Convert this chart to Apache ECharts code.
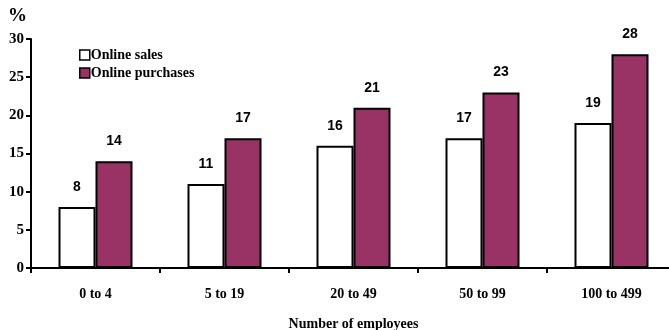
<!DOCTYPE html>
<html>
<head>
<meta charset="utf-8">
<script src="https://cdn.jsdelivr.net/npm/echarts@6/dist/echarts.min.js"></script>
<style>
  html, body { margin: 0; padding: 0; background: #fff; }
  #chart { width: 669px; height: 330px; }
</style>
</head>
<body>
<div id="chart"></div>
<script>
// Share of businesses selling / purchasing online, by firm size
const categories = ['0 to 4', '5 to 19', '20 to 49', '50 to 99', '100 to 499'];
const onlineSales = [8, 11, 16, 17, 19];
const onlinePurchases = [14, 17, 21, 23, 28];
const yTicks = [0, 5, 10, 15, 20, 25, 30];

const serif = '"Liberation Serif", "Times New Roman", serif';
const sans = '"Liberation Sans Narrow", "Liberation Sans", Arial, sans-serif';

const chart = echarts.init(document.getElementById('chart'), null, { renderer: 'canvas' });

const valueLabel = {
  show: true,
  position: 'top',
  distance: 13,
  color: '#000',
  fontFamily: sans,
  fontWeight: 'bold',
  fontSize: 14
};

chart.setOption({
  animation: false,
  backgroundColor: '#fff',
  grid: { left: 31, top: 39, width: 645, height: 229, containLabel: false, outerBoundsMode: 'none' },
  graphic: [{
    type: 'text',
    left: 8,
    top: 7,
    style: { text: '%', fontFamily: serif, fontWeight: 'bold', fontSize: 19, fill: '#000' }
  }],
  legend: {
    left: 79,
    top: 48,
    padding: 0,
    orient: 'vertical',
    icon: 'rect',
    itemWidth: 10,
    itemHeight: 10,
    itemGap: 4,
    itemStyle: { borderColor: '#000', borderWidth: 1.5 },
    textStyle: { fontFamily: serif, fontWeight: 'bold', fontSize: 14, color: '#000', padding: [0, 0, 0, -4] },
    data: ['Online sales', 'Online purchases']
  },
  xAxis: {
    type: 'category',
    data: categories,
    name: 'Number of employees',
    nameLocation: 'middle',
    nameGap: 49,
    nameTextStyle: { fontFamily: serif, fontWeight: 'bold', fontSize: 14, color: '#000' },
    axisLine: { lineStyle: { color: '#000', width: 2 } },
    axisTick: { show: true, length: 5, lineStyle: { color: '#000', width: 2 } },
    axisLabel: { margin: 19, fontFamily: serif, fontWeight: 'bold', fontSize: 14, color: '#000' }
  },
  yAxis: {
    type: 'value',
    min: yTicks[0],
    max: yTicks[yTicks.length - 1],
    interval: 5,
    axisLine: { show: true, lineStyle: { color: '#000', width: 2 } },
    axisTick: { show: true, length: 5, lineStyle: { color: '#000', width: 2 } },
    splitLine: { show: false },
    axisLabel: { margin: 7, fontFamily: serif, fontWeight: 'bold', fontSize: 15, color: '#000' }
  },
  series: [
    {
      name: 'Online sales',
      type: 'bar',
      data: onlineSales,
      barWidth: 37,
      barGap: '0%',
      itemStyle: { color: '#ffffff', borderColor: '#000', borderWidth: 2 },
      label: valueLabel
    },
    {
      name: 'Online purchases',
      type: 'bar',
      data: onlinePurchases,
      barWidth: 37,
      itemStyle: { color: '#993366', borderColor: '#000', borderWidth: 2 },
      label: valueLabel
    }
  ]
});
</script>
</body>
</html>
